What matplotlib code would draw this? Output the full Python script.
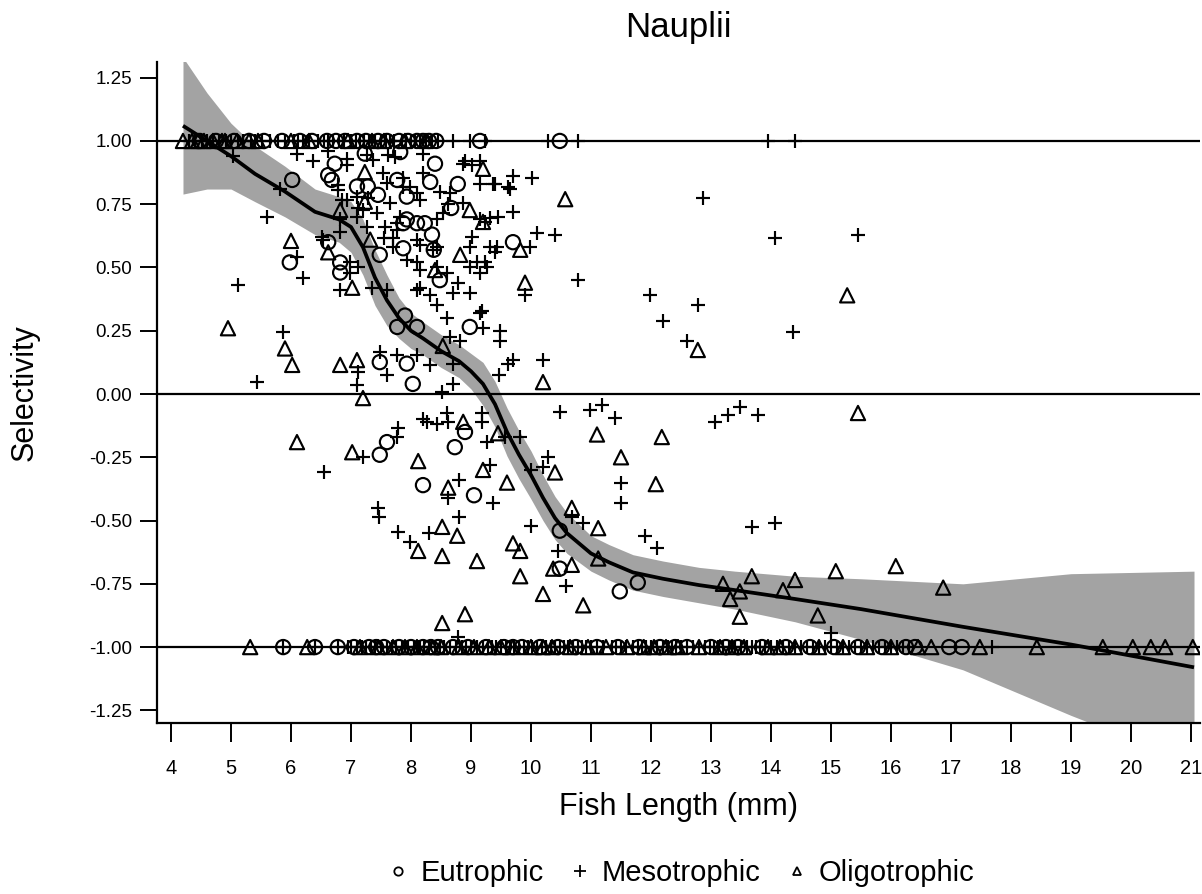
import numpy as np
import matplotlib
matplotlib.use("Agg")
import matplotlib.pyplot as plt
from matplotlib.lines import Line2D

# ---------------------------------------------------------------- data
# Eutrophic lakes (circles): scattered selectivity values
eu_x = [6.02, 5.98, 6.62, 6.73, 6.62, 6.68, 7.10, 7.28, 7.23, 7.45, 7.82, 7.77, 7.93,
        8.32, 8.40, 8.78, 8.67, 8.35, 8.38, 8.23, 8.10, 7.93, 7.48, 7.87, 7.87, 6.82,
        6.82, 8.48, 9.70, 7.77, 7.90, 8.10, 8.98, 7.48, 7.93, 8.03, 7.48, 7.60, 8.20,
        8.90, 8.73, 9.05, 10.48, 10.48, 11.48, 11.78]
eu_y = [0.846, 0.52, 0.60, 0.91, 0.865, 0.846, 0.82, 0.82, 0.95, 0.787, 0.956, 0.846, 0.78,
        0.838, 0.91, 0.83, 0.735, 0.63, 0.57, 0.675, 0.675, 0.69, 0.55, 0.576, 0.675, 0.52,
        0.48, 0.45, 0.60, 0.265, 0.31, 0.265, 0.265, 0.126, 0.12, 0.04, -0.24, -0.19, -0.36,
        -0.15, -0.21, -0.40, -0.54, -0.69, -0.78, -0.745]
# Eutrophic fish with selectivity of exactly +1 and -1
eu_top_x = [4.48, 4.75, 5.05, 5.30, 5.55, 5.85, 6.15, 6.35, 6.60, 6.75, 6.90, 7.10, 7.25,
            7.45, 7.60, 7.80, 7.95, 8.10, 8.20, 8.30, 8.42, 9.15, 10.48]
eu_bottom_x = [5.87, 6.40, 6.78, 7.05, 7.30, 7.42, 7.55, 7.80, 8.00, 8.20, 8.33, 8.45, 8.70,
               8.95, 9.25, 9.55, 9.70, 9.85, 10.15, 10.45, 10.75, 11.10, 11.45, 11.80, 12.15,
               12.40, 12.60, 13.00, 13.25, 13.45, 13.85, 14.25, 14.65, 15.05, 15.45, 15.85,
               16.25, 16.40, 16.97, 17.18]

# Mesotrophic lakes (plus signs)
meso_x = [5.03, 6.10, 6.37, 5.60, 5.82, 6.53, 6.10, 6.20, 5.12, 5.87, 5.43, 6.55,
          6.62, 6.78, 6.78, 6.93, 6.93, 6.85, 6.82, 6.82, 7.27, 7.37, 7.10, 7.12, 7.28,
          7.53, 7.60, 7.73, 7.62, 7.87, 7.87, 7.98, 8.10, 8.15, 8.20, 8.20, 8.48, 8.65,
          8.87, 9.02, 9.15, 9.37, 9.62, 8.62, 8.87, 9.15, 9.32, 9.45, 9.02, 8.98, 9.10,
          9.27, 8.43, 8.15, 8.43, 8.53, 7.82, 7.77, 7.57, 7.27, 7.10, 7.43, 7.65, 7.20,
          6.93, 7.55, 7.70, 7.77, 7.70, 8.10, 7.93, 8.10, 8.15, 8.43, 8.98, 9.15, 9.43,
          9.32, 9.23, 6.98, 7.12, 6.98, 6.52, 8.90, 9.15, 9.70, 10.02, 9.40, 9.65, 12.87,
          9.70, 9.23, 10.10, 10.40, 14.07, 9.98, 9.40, 9.90, 10.78, 11.98, 12.78, 12.20,
          12.60, 14.37, 15.45, 9.48, 9.48, 9.18, 8.32, 8.43, 8.60, 8.70, 8.98, 8.78, 8.60,
          8.15, 8.37, 7.35, 7.60, 8.10, 9.15, 8.65, 9.20, 8.70, 8.32, 8.82, 7.48, 7.60,
          7.77, 8.10, 8.52, 8.70, 7.12, 7.10, 6.82, 9.70, 9.62, 10.20, 9.47, 8.20, 8.27,
          8.43, 8.60, 8.62, 9.18, 9.18, 9.27, 9.32, 9.57, 9.82, 10.00, 10.20, 10.28, 10.48,
          10.98, 11.18, 11.40, 13.07, 13.28, 13.48, 13.78, 11.50, 11.50, 13.68, 14.07, 11.90,
          12.10, 10.68, 10.87, 10.45, 10.58, 10.00, 9.37, 8.62, 8.80, 8.80, 8.30, 7.98,
          7.78, 7.45, 7.47, 7.20, 7.78, 7.77, 15.00, 8.78]
meso_y = [0.94, 0.95, 0.92, 0.70, 0.81, 0.61, 0.54, 0.46, 0.43, 0.245, 0.047, -0.31,
          0.96, 0.826, 0.806, 0.93, 0.905, 0.767, 0.69, 0.64, 0.945, 0.925, 0.78, 0.735, 0.775,
          0.873, 0.834, 0.937, 0.945, 0.854, 0.82, 0.82, 0.795, 0.767, 0.873, 0.95, 0.80, 0.795,
          0.91, 0.905, 0.83, 0.83, 0.82, 0.75, 0.755, 0.69, 0.695, 0.70, 0.62, 0.58, 0.52,
          0.50, 0.58, 0.59, 0.69, 0.715, 0.70, 0.675, 0.66, 0.66, 0.70, 0.715, 0.755, 0.727,
          0.767, 0.617, 0.617, 0.65, 0.58, 0.61, 0.53, 0.52, 0.49, 0.50, 0.50, 0.48, 0.58,
          0.58, 0.52, 0.52, 0.50, 0.48, 0.62, 0.92, 0.92, 0.86, 0.855, 0.83, 0.81, 0.775,
          0.72, 0.68, 0.635, 0.63, 0.615, 0.58, 0.56, 0.39, 0.45, 0.39, 0.35, 0.29,
          0.21, 0.245, 0.63, 0.25, 0.21, 0.33, 0.39, 0.35, 0.30, 0.40, 0.40, 0.44, 0.48,
          0.42, 0.57, 0.42, 0.41, 0.41, 0.32, 0.225, 0.26, 0.12, 0.115, 0.21, 0.166, 0.075,
          0.154, 0.154, 0.008, 0.04, 0.087, 0.036, 0.41, 0.134, 0.12, 0.134, 0.075, -0.10, -0.11,
          -0.12, -0.075, -0.11, -0.075, -0.11, -0.19, -0.28, -0.17, -0.17, -0.30, -0.29, -0.25, -0.07,
          -0.063, -0.043, -0.095, -0.11, -0.083, -0.05, -0.083, -0.35, -0.43, -0.525, -0.51, -0.56,
          -0.61, -0.485, -0.51, -0.62, -0.76, -0.52, -0.43, -0.41, -0.34, -0.485, -0.55, -0.585,
          -0.545, -0.45, -0.485, -0.25, -0.135, -0.17, -0.945, -0.96]
meso_top_x = [4.30, 4.40, 4.52, 4.60, 4.70, 4.80, 4.92, 5.00, 5.12, 5.20, 5.33, 5.40, 5.52,
              5.65, 5.78, 5.90, 6.05, 6.12, 6.20, 6.30, 6.45, 6.55, 6.62, 6.70, 6.80, 6.88,
              7.00, 7.08, 7.15, 7.22, 7.30, 7.40, 7.50, 7.58, 7.65, 7.72, 7.85, 7.92, 8.00,
              8.07, 8.15, 8.25, 8.35, 8.45, 8.70, 8.98, 9.23, 10.28, 10.78, 13.95, 14.40]
meso_bottom_x = [5.87, 6.40, 6.78, 6.95, 7.00, 7.10, 7.18, 7.25, 7.33, 7.40, 7.50, 7.60,
                 7.68, 7.75, 7.85, 7.95, 8.05, 8.12, 8.15, 8.22, 8.30, 8.40, 8.48, 8.55,
                 8.65, 8.75, 8.85, 8.92, 9.00, 9.10, 9.20, 9.28, 9.35, 9.42, 9.50, 9.58,
                 9.65, 9.72, 9.80, 9.88, 9.95, 10.02, 10.10, 10.18, 10.25, 10.33, 10.40,
                 10.48, 10.55, 10.62, 10.70, 10.78, 10.85, 10.92, 11.00, 11.10, 11.20, 11.35,
                 11.42, 11.50, 11.58, 11.70, 11.78, 11.85, 11.92, 12.00, 12.10, 12.20, 12.28,
                 12.35, 12.42, 12.50, 12.60, 12.70, 12.80, 12.90, 12.98, 13.05, 13.12, 13.20,
                 13.30, 13.40, 13.50, 13.60, 13.68, 13.75, 13.82, 13.90, 14.00, 14.10, 14.20,
                 14.30, 14.40, 14.50, 14.60, 14.70, 14.80, 14.90, 15.00, 15.10, 15.20, 15.30,
                 15.40, 15.50, 15.60, 15.70, 15.80, 15.90, 16.00, 16.10, 16.20, 16.30, 17.68]

# Oligotrophic lakes (triangles)
oligo_x = [6.00, 6.62, 7.32, 7.02, 6.82, 7.23, 7.23, 8.40, 8.82, 8.98, 9.20, 9.20, 9.82,
           9.90, 10.57, 8.53, 12.78, 10.20, 4.95, 5.90, 6.02, 6.82, 7.10, 7.20, 6.10, 7.02,
           8.12, 8.87, 8.62, 9.60, 9.20, 9.45, 10.40, 8.52, 8.12, 8.52, 8.77, 9.10, 9.70,
           9.82, 9.82, 10.20, 8.90, 8.52, 10.68, 11.12, 10.37, 10.68, 10.87, 11.12, 11.10,
           12.18, 11.50, 12.08, 13.20, 13.68, 13.32, 13.48, 13.48, 14.20, 14.40, 15.08, 14.78,
           16.08, 16.87, 15.27, 15.45]
oligo_y = [0.605, 0.56, 0.61, 0.42, 0.727, 0.877, 0.76, 0.49, 0.55, 0.727, 0.68, 0.89, 0.57,
           0.44, 0.77, 0.19, 0.174, 0.047, 0.26, 0.18, 0.115, 0.115, 0.134, -0.016, -0.19, -0.23,
           -0.265, -0.11, -0.37, -0.35, -0.30, -0.155, -0.31, -0.525, -0.62, -0.64, -0.56, -0.66, -0.59,
           -0.62, -0.72, -0.79, -0.87, -0.905, -0.45, -0.53, -0.69, -0.675, -0.835, -0.65, -0.16,
           -0.17, -0.25, -0.356, -0.75, -0.72, -0.81, -0.78, -0.88, -0.775, -0.735, -0.70, -0.875,
           -0.68, -0.765, 0.39, -0.075]
oligo_top_x = [4.20, 4.35, 4.45, 4.55, 4.70, 4.85, 4.90, 5.10, 5.30, 5.45, 6.00, 6.30,
               6.95, 7.35, 7.55, 7.90, 8.25]
oligo_bottom_x = [5.32, 6.27, 7.15, 7.45, 7.70, 7.90, 8.10, 8.35, 8.50, 8.80, 9.05, 9.30,
                  9.50, 9.70, 10.00, 10.20, 10.35, 10.65, 10.95, 11.25, 11.60, 11.88, 12.05,
                  12.25, 12.45, 12.80, 13.15, 13.35, 13.55, 13.95, 14.15, 14.40, 14.80, 15.20,
                  15.60, 16.00, 16.45, 16.67, 17.48, 18.43, 19.53, 20.03, 20.33, 20.57, 21.03]

# Smoothed fit and its confidence half-width
fit_x = [4.2, 4.6, 5.0, 5.4, 5.9, 6.4, 6.8, 7.0, 7.2, 7.4, 7.6, 7.8, 8.0, 8.2, 8.5, 8.8,
         9.0, 9.2, 9.4, 9.6, 9.8, 10.0, 10.2, 10.4, 10.6, 10.8, 11.0, 11.3, 11.7, 12.2,
         12.8, 13.4, 14.4, 15.5, 17.2, 19.0, 21.05]
fit_y = [1.06, 1.00, 0.94, 0.87, 0.80, 0.72, 0.69, 0.66, 0.58, 0.46, 0.37, 0.30, 0.25, 0.22,
         0.17, 0.13, 0.09, 0.04, -0.04, -0.15, -0.24, -0.32, -0.41, -0.49, -0.55, -0.59,
         -0.63, -0.665, -0.705, -0.73, -0.755, -0.775, -0.81, -0.85, -0.92, -0.99, -1.08]
fit_half = [0.27, 0.19, 0.13, 0.11, 0.10, 0.09, 0.09, 0.10, 0.11, 0.11, 0.10, 0.08, 0.07,
            0.065, 0.065, 0.065, 0.07, 0.085, 0.09, 0.095, 0.095, 0.095, 0.09, 0.085, 0.08,
            0.075, 0.07, 0.07, 0.07, 0.07, 0.07, 0.075, 0.09, 0.12, 0.17, 0.28, 0.38]

x_ticks = list(range(4, 22))
y_ticks = [-1.25, -1.0, -0.75, -0.5, -0.25, 0.0, 0.25, 0.5, 0.75, 1.0, 1.25]
ref_levels = [1.0, 0.0, -1.0]

plt.rcParams["font.family"] = ["Liberation Sans", "DejaVu Sans"]

# ---------------------------------------------------------------- figure
W, H = 1202, 894
fig = plt.figure(figsize=(W / 100, H / 100), dpi=100)
ax = fig.add_axes([157 / W, 1 - 723 / H, (1200 - 157) / W, (723 - 62) / H])
ax.set_xlim(3.767, 21.15)
ax.set_ylim(-1.30, 1.312)

fx = np.array(fit_x)
fy = np.array(fit_y)
fh = np.array(fit_half)
ax.fill_between(fx, fy - fh, fy + fh, color="#a3a3a3", lw=0, zorder=1)

for lvl in ref_levels:
    ax.axhline(lvl, color="black", lw=1.6, zorder=2)

ax.plot(fx, fy, color="black", lw=2.7, zorder=4, solid_capstyle="butt")

mk = dict(s=105, linewidths=1.55, zorder=3)


def with_rows(xs, ys, top, bottom):
    allx = list(xs) + list(top) + list(bottom)
    ally = list(ys) + [1.0] * len(top) + [-1.0] * len(bottom)
    return allx, ally


ex, ey = with_rows(eu_x, eu_y, eu_top_x, eu_bottom_x)
mx, my = with_rows(meso_x, meso_y, meso_top_x, meso_bottom_x)
ox, oy = with_rows(oligo_x, oligo_y, oligo_top_x, oligo_bottom_x)

ax.scatter(ex, ey, marker="o", facecolors="none", edgecolors="black", **mk)
ax.scatter(mx, my, marker="+", color="black", **mk)
ax.scatter(ox, oy, marker="^", facecolors="none", edgecolors="black", **mk)

# axes styling
for side in ("top", "right"):
    ax.spines[side].set_visible(False)
for side in ("left", "bottom"):
    ax.spines[side].set_linewidth(1.6)

ax.set_xticks(x_ticks)
ax.set_yticks(y_ticks)
ax.set_yticklabels([f"{v:.2f}" for v in y_ticks], fontsize=13.5)
ax.set_xticklabels([str(v) for v in x_ticks], fontsize=14.5)
ax.tick_params(axis="y", direction="out", length=12, width=1.4, pad=6)
ax.tick_params(axis="x", direction="out", length=14, width=1.4, pad=12)

ax.set_title("Nauplii", fontsize=25, pad=18)
ax.set_xlabel("Fish Length (mm)", fontsize=22, labelpad=10)
fig.text(25 / W, 1 - 393 / H, "Selectivity", rotation=90, ha="center", va="center",
         fontsize=22)

handles = [
    Line2D([], [], marker="o", ls="none", ms=6, mfc="none", mec="black", mew=1.3),
    Line2D([], [], marker="+", ls="none", ms=8, mec="black", mew=1.3),
    Line2D([], [], marker="^", ls="none", ms=6, mfc="none", mec="black", mew=1.3),
]
fig.legend(handles, ["Eutrophic", "Mesotrophic", "Oligotrophic"], loc="center",
           bbox_to_anchor=(683 / W, 1 - 873 / H), ncol=3, frameon=False,
           handlelength=0.5, handletextpad=0.5, columnspacing=1.0,
           prop=dict(size=21))

fig.savefig("out.png", dpi=100)
